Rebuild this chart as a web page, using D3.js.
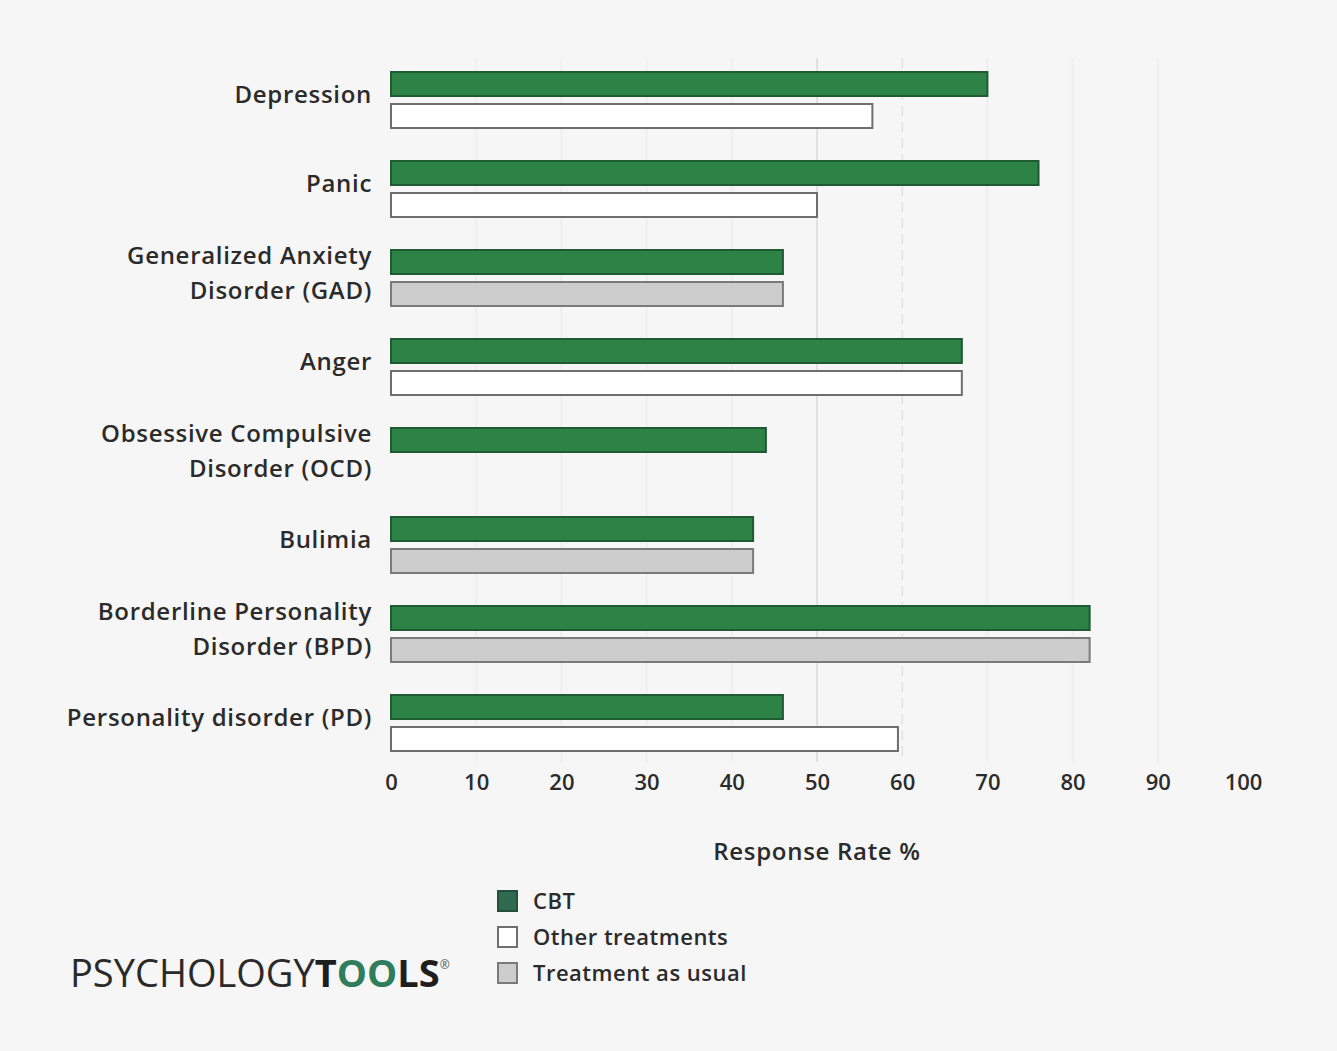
<!DOCTYPE html>
<html>
<head>
<meta charset="utf-8">
<script src="https://cdn.jsdelivr.net/npm/d3@7"></script>
<style>
  html, body { margin: 0; padding: 0; background: #f6f6f6; }
  svg { display: block; }
  text { font-family: "Open Sans", "Noto Sans", sans-serif; fill: #2b2b2b; }
</style>
</head>
<body>
<svg id="chart" width="1337" height="1051"></svg>
<script>
// ---- data ----
const categories = [
  ["Depression"],
  ["Panic"],
  ["Generalized Anxiety", "Disorder (GAD)"],
  ["Anger"],
  ["Obsessive Compulsive", "Disorder (OCD)"],
  ["Bulimia"],
  ["Borderline Personality", "Disorder (BPD)"],
  ["Personality disorder (PD)"]
];
const cbtValues        = [70, 76, 46, 67, 44, 42.5, 82, 46];
const comparisonValues = [56.5, 50, 46, 67, null, 42.5, 82, 59.5];
const comparisonType   = ["Other treatments", "Other treatments", "Treatment as usual", "Other treatments", null, "Treatment as usual", "Treatment as usual", "Other treatments"];
const xTicks = [0, 10, 20, 30, 40, 50, 60, 70, 80, 90, 100];
const legendLabels = ["CBT", "Other treatments", "Treatment as usual"];

// ---- styles ----
const styles = {
  "CBT": { fill: "#2d8246", stroke: "#1f5a32" },
  "Other treatments": { fill: "#ffffff", stroke: "#6e6e6e" },
  "Treatment as usual": { fill: "#cdcdcd", stroke: "#7a7a7a" }
};

const svg = d3.select("#chart");
svg.append("rect").attr("width", 1337).attr("height", 1051).attr("fill", "#f6f6f6");

const x = d3.scaleLinear().domain([0, 100]).range([391, 1243]);
const y = d3.scaleBand().domain(d3.range(categories.length)).range([55.5, 767.5]);
const sub = d3.scaleBand().domain(["cbt", "cmp"]).range([-28, 28]).paddingInner(0.25);

// gridlines
svg.append("g").selectAll("line").data(xTicks.filter(d => d > 0 && d < 100)).join("line")
  .attr("x1", d => x(d)).attr("x2", d => x(d))
  .attr("y1", 58).attr("y2", 762)
  .attr("stroke", d => d === 50 ? "#e0e0e0" : (d === 60 ? "#e6e6e6" : "#efefef"))
  .attr("stroke-width", 2)
  .attr("stroke-dasharray", d => d === 60 ? "10,6" : null);

// bars
const rows = categories.map((c, i) => ({ i, cbt: cbtValues[i], cmp: comparisonValues[i], type: comparisonType[i] }));
const g = svg.append("g");
g.selectAll("rect.cbt").data(rows).join("rect")
  .attr("class", "cbt")
  .attr("x", x(0))
  .attr("y", d => y(d.i) + y.bandwidth() / 2 + sub("cbt"))
  .attr("width", d => x(d.cbt) - x(0))
  .attr("height", sub.bandwidth())
  .attr("fill", styles["CBT"].fill)
  .attr("stroke", styles["CBT"].stroke)
  .attr("stroke-width", 2);
g.selectAll("rect.cmp").data(rows.filter(d => d.cmp != null)).join("rect")
  .attr("class", "cmp")
  .attr("x", x(0))
  .attr("y", d => y(d.i) + y.bandwidth() / 2 + sub("cmp"))
  .attr("width", d => x(d.cmp) - x(0))
  .attr("height", sub.bandwidth())
  .attr("fill", d => styles[d.type].fill)
  .attr("stroke", d => styles[d.type].stroke)
  .attr("stroke-width", 2);

// category labels
const lab = svg.append("g").selectAll("text").data(categories).join("text")
  .attr("text-anchor", "end")
  .attr("font-size", 24)
  .attr("font-weight", 600)
  .attr("letter-spacing", 0.7)
  .attr("transform", (d, i) => `translate(372, ${y(i) + y.bandwidth() / 2 - 5})`);
lab.each(function (lines) {
  const t = d3.select(this);
  const n = lines.length;
  lines.forEach((ln, k) => {
    t.append("tspan").attr("x", 0)
      .attr("y", (k - (n - 1) / 2) * 35)
      .attr("dy", "0.35em")
      .text(ln);
  });
});

// x axis
const axis = d3.axisBottom(x).tickValues(xTicks).tickSize(0).tickPadding(0);
const ax = svg.append("g").attr("transform", "translate(0, 774)").call(axis);
ax.select(".domain").remove();
ax.selectAll("text").attr("font-size", 22).attr("fill", "#2b2b2b").attr("font-weight", 600)
  .attr("font-family", "'Open Sans', sans-serif");

svg.append("text").attr("x", x(50)).attr("y", 852)
  .attr("dy", "0.35em").attr("text-anchor", "middle")
  .attr("font-size", 24).attr("font-weight", 600).attr("letter-spacing", 0.7)
  .text("Response Rate %");

// legend
const leg = svg.append("g").attr("transform", "translate(497, 890)");
const li = leg.selectAll("g").data(legendLabels).join("g")
  .attr("transform", (d, i) => `translate(0, ${i * 36})`);
li.append("rect").attr("x", 1).attr("y", 1).attr("width", 19).attr("height", 20)
  .attr("fill", d => d === "CBT" ? "#2f6b4f" : styles[d].fill)
  .attr("stroke", d => d === "CBT" ? "#24503b" : styles[d].stroke)
  .attr("stroke-width", 2);
li.append("text").attr("x", 36).attr("y", 11).attr("dy", "0.35em")
  .attr("font-size", 22).attr("font-weight", 600).attr("letter-spacing", 0.5).text(d => d);

// logo
const logo = svg.append("text").attr("x", 70).attr("y", 987)
  .attr("font-size", 38).attr("font-family", "'Liberation Sans', Arial, sans-serif")
  .attr("letter-spacing", 0);
logo.append("tspan").attr("fill", "#2a2a2a").text("PSYCHOLOGY");
logo.append("tspan").attr("fill", "#1e1e1e").attr("font-weight", "bold").text("T");
logo.append("tspan").attr("fill", "#2f7d5a").attr("font-weight", "bold").text("OO");
logo.append("tspan").attr("fill", "#1e1e1e").attr("font-weight", "bold").text("LS");
logo.append("tspan").attr("fill", "#555").attr("font-size", 12).attr("dy", -18).text("®");
</script>
</body>
</html>
